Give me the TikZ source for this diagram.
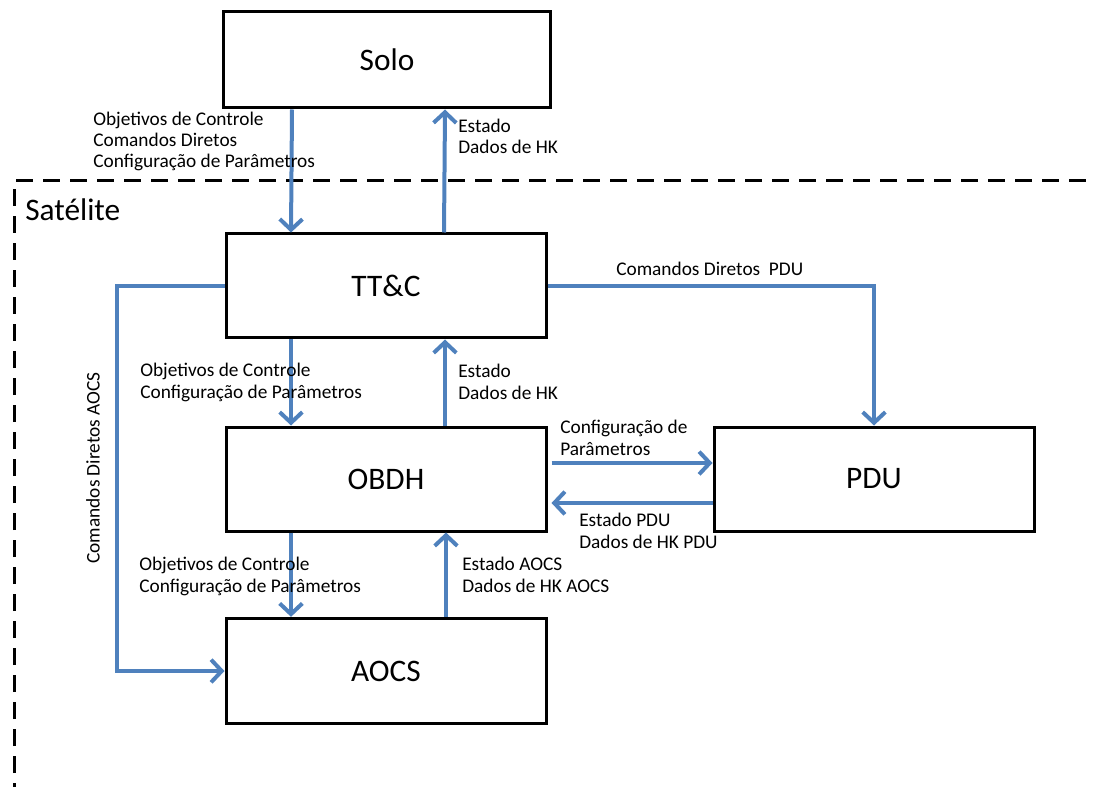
\documentclass[tikz,border=0pt]{standalone}
\usepackage{fontspec}
\setmainfont{Carlito}
\usetikzlibrary{arrows.meta,positioning}
\definecolor{azulseta}{RGB}{79,129,189}
\tikzset{
  bloco/.style={draw=black, line width=2.25pt, minimum width=240pt, minimum height=78pt,
    inner sep=0pt, font=\fontsize{23.5}{26}\selectfont},
  fluxo/.style={draw=azulseta, line width=3pt,
    -{Straight Barb[length=8pt,width=17pt,line width=3pt]}},
  rotulo/.style={anchor=base west, align=left, inner sep=0pt,
    font=\fontsize{14.5}{15.9}\selectfont},
  limite/.style={draw=black, line width=2.25pt, dash pattern=on 12.75pt off 7.5pt},
}
\begin{document}
\begin{tikzpicture}[x=0.75pt,y=-0.75pt]
  \useasboundingbox (0,0) rectangle (1094,787);
  % fronteira do satelite
  \draw[limite] (14,800) -- (14,181) -- (1100,181);
  \node[anchor=west, inner sep=0pt, font=\fontsize{23.5}{26}\selectfont] (sat) at (25,210) {Satélite};
  % blocos
  \node[bloco, minimum width=245pt, minimum height=72pt] (solo) at (387,60) {Solo};
  \node[bloco] (ttc) at (386,286) {TT\&C};
  \node[bloco] (obdh) at (386,479) {OBDH};
  \node[bloco] (pdu) at (874,479) {PDU};
  \node[bloco, minimum height=79pt] (aocs) at (386,671) {AOCS};
  % Solo <-> TT&C
  \draw[fluxo] ([xshift=-71.25pt]solo.south) -- ([xshift=-71.25pt]ttc.north);
  \draw[fluxo] ([xshift=43.5pt]ttc.north) -- ([xshift=43.5pt]solo.south);
  \node[rotulo] (r1) at (93,168) {Objetivos de Controle\\Comandos Diretos\\Configuração de Parâmetros};
  \node[rotulo] (r2) at (458,154) {Estado\\Dados de HK};
  % TT&C <-> OBDH
  \draw[fluxo] ([xshift=-71.25pt]ttc.south) -- ([xshift=-71.25pt]obdh.north);
  \draw[fluxo] ([xshift=44.25pt]obdh.north) -- ([xshift=44.25pt]ttc.south);
  \node[rotulo] (r3) at (140,398) {Objetivos de Controle\\Configuração de Parâmetros};
  \node[rotulo] (r4) at (458,399) {Estado\\Dados de HK};
  % OBDH <-> AOCS
  \draw[fluxo] ([xshift=-71.25pt]obdh.south) -- ([xshift=-71.25pt]aocs.north);
  \draw[fluxo] ([xshift=45pt]aocs.north) -- ([xshift=45pt]obdh.south);
  \node[rotulo] (r5) at (139,592) {Objetivos de Controle\\Configuração de Parâmetros};
  \node[rotulo] (r6) at (462,592) {Estado AOCS\\Dados de HK AOCS};
  % TT&C -> PDU
  \draw[fluxo] (ttc.east) -| (pdu.north);
  \node[rotulo] (r7) at (616,276) {Comandos Diretos\ \ PDU};
  % OBDH <-> PDU
  \draw[fluxo] ([xshift=3pt,yshift=12pt]obdh.east) -- ([yshift=12pt]pdu.west);
  \draw[fluxo] ([yshift=-18pt]pdu.west) -- ([xshift=3pt,yshift=-18pt]obdh.east);
  \node[rotulo] (r8) at (560,455) {Configuração de\\Parâmetros};
  \node[rotulo] (r9) at (579,548) {Estado PDU\\Dados de HK PDU};
  % TT&C -> AOCS
  \coordinate (dobra) at (117,286);
  \draw[fluxo] (ttc.west) -- (dobra) |- (aocs.west);
  \node[inner sep=0pt, rotate=90, font=\fontsize{14.5}{16}\selectfont] (r10) at (93,468) {Comandos Diretos AOCS};
\end{tikzpicture}
\end{document}
